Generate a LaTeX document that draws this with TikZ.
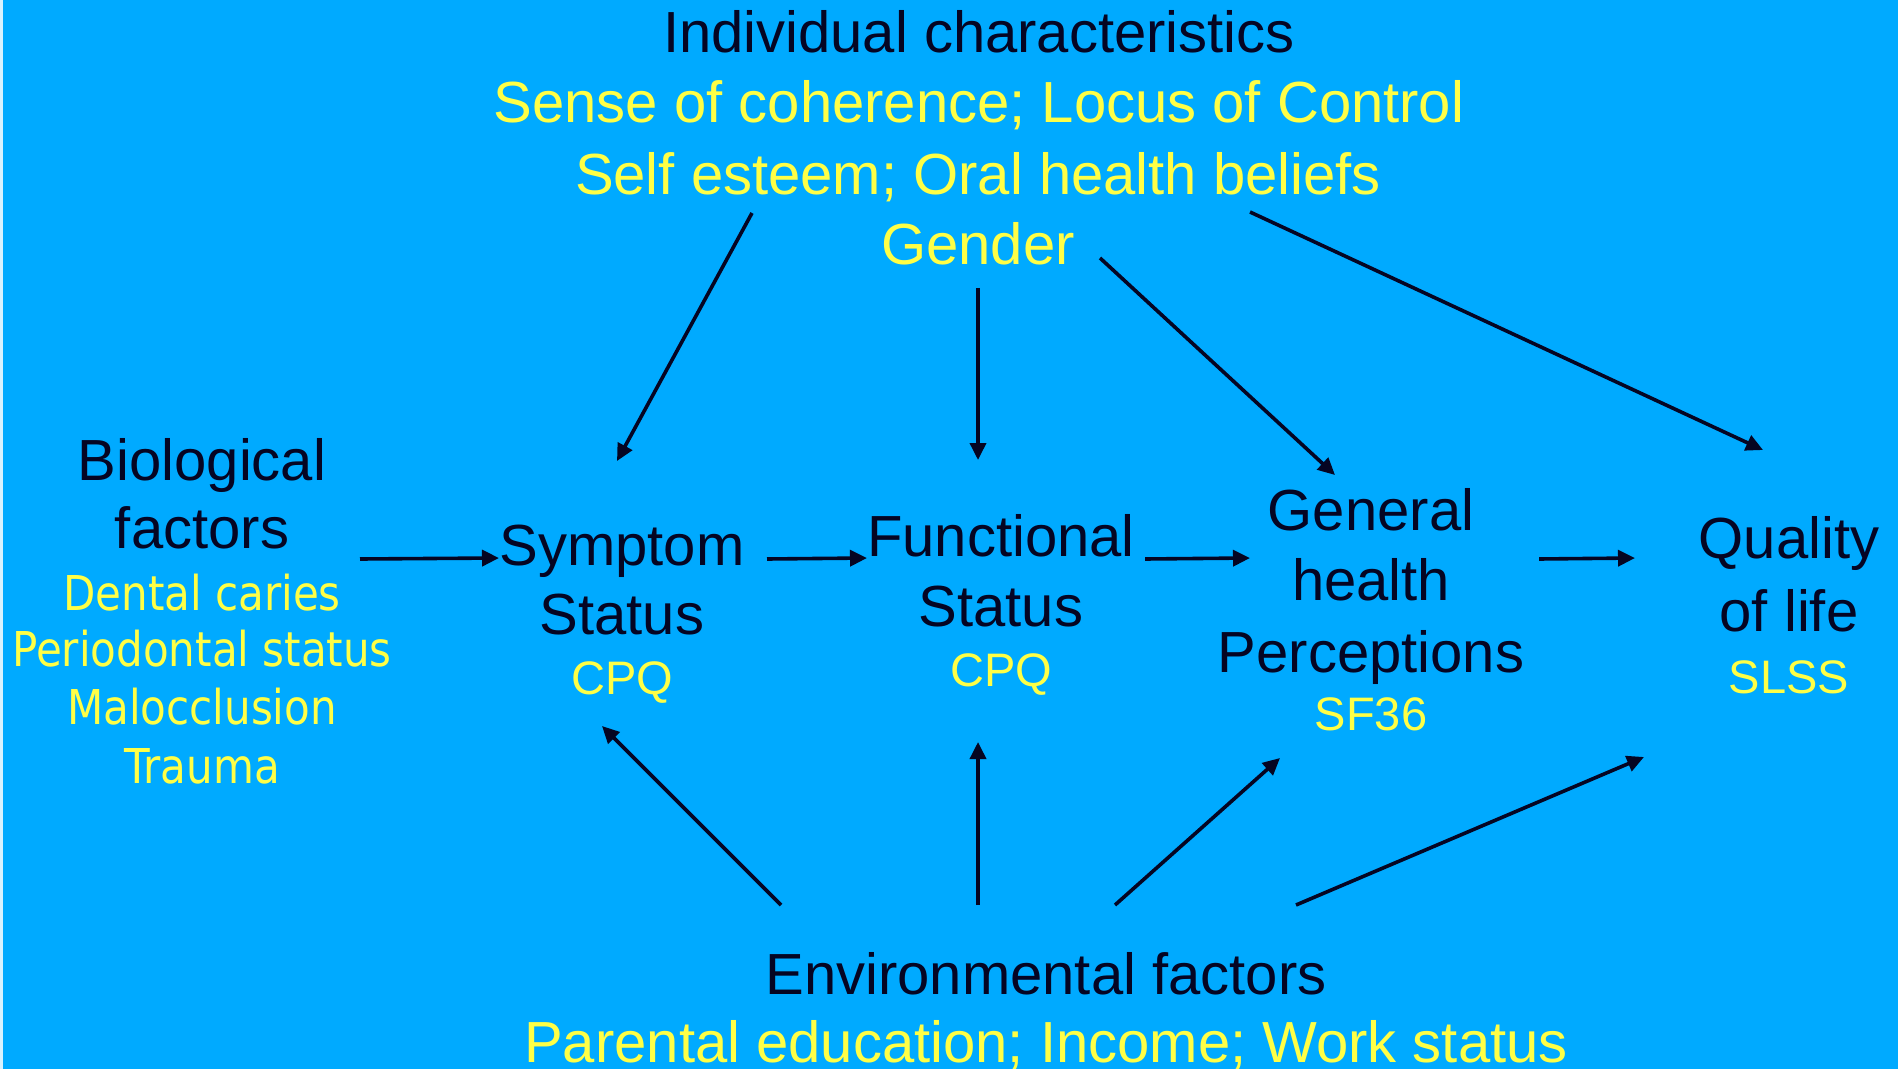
\documentclass[tikz,border=0pt]{standalone}
\usepackage{fontspec}
\setmainfont{Liberation Sans}
\newfontfamily\tahfont{DejaVu Sans}[FakeStretch=0.875]
\usetikzlibrary{arrows.meta}
\definecolor{bgblue}{RGB}{0,170,255}
\definecolor{darktxt}{RGB}{5,5,35}
\definecolor{yeltxt}{RGB}{255,255,70}
\tikzset{
  big/.style={anchor=base, inner sep=0pt, text=darktxt, font=\fontsize{29pt}{34pt}\selectfont},
  bigy/.style={anchor=base, inner sep=0pt, text=yeltxt, font=\fontsize{29pt}{34pt}\selectfont},
  smally/.style={anchor=base, inner sep=0pt, text=yeltxt, font=\fontsize{23.5pt}{28pt}\selectfont},
  tahy/.style={anchor=base, inner sep=0pt, text=yeltxt, font=\tahfont\fontsize{24pt}{29pt}\selectfont},
  arr/.style={draw=darktxt, line width=1.8pt, -{Triangle[length=8.5pt,width=8pt]}}
}
\begin{document}
\begin{tikzpicture}[x=0.5pt,y=-0.5pt]
\useasboundingbox (0,0) rectangle (1898,1069);
\fill[bgblue] (0,0) rectangle (1898,1069);
\fill[white!85!bgblue] (0,0) rectangle (3,1069);

% Individual characteristics
\node[big]  (ind)  at (979,53)  {Individual characteristics};
\node[bigy] (indA) at (979,123) {Sense of coherence; Locus of Control};
\node[bigy] (indB) at (978,195) {Self esteem; Oral health beliefs};
\node[bigy] (gend) at (978,265) {Gender};

% Biological factors
\node[big]  (bio1) at (202,480) {Biological};
\node[big]  (bio2) at (202,548) {factors};
\node[tahy] (bioA) at (202,610) {Dental caries};
\node[tahy] (bioB) at (202,666) {Periodontal status};
\node[tahy] (bioC) at (202,724) {Malocclusion};
\node[tahy] (bioD) at (202,783) {Trauma};

% Symptom status
\node[big]    (sym1) at (622,565) {Symptom};
\node[big]    (sym2) at (622,634) {Status};
\node[smally] (symq) at (622,694) {CPQ};

% Functional status
\node[big]    (fun1) at (1001,556) {Functional};
\node[big]    (fun2) at (1001,626) {Status};
\node[smally] (funq) at (1001,686) {CPQ};

% General health perceptions
\node[big]    (gen1) at (1371,530) {General};
\node[big]    (gen2) at (1371,600) {health};
\node[big]    (gen3) at (1371,672) {Perceptions};
\node[smally] (genq) at (1371,730) {SF36};

% Quality of life
\node[big]    (qol1) at (1789,558) {Quality};
\node[big]    (qol2) at (1789,631) {of life};
\node[smally] (qolq) at (1789,693) {SLSS};

% Environmental factors
\node[big]  (env)  at (1046,994)  {Environmental factors};
\node[bigy] (envA) at (1046,1062) {Parental education; Income; Work status};

% connector end points
\coordinate (h1s) at (360,559);  \coordinate (h1e) at (499,558);
\coordinate (h2s) at (767,559);  \coordinate (h2e) at (867,558);
\coordinate (h3s) at (1145,559); \coordinate (h3e) at (1250,558);
\coordinate (h4s) at (1539,559); \coordinate (h4e) at (1635,558);

\coordinate (t1s) at (752,213);  \coordinate (t1e) at (617,461);
\coordinate (t2s) at (978,288);  \coordinate (t2e) at (978,460);
\coordinate (t3s) at (1100,258); \coordinate (t3e) at (1335,475);
\coordinate (t4s) at (1250,212); \coordinate (t4e) at (1763,450);

\coordinate (b1s) at (781,905);  \coordinate (b1e) at (602,726);
\coordinate (b2s) at (978,905);  \coordinate (b2e) at (978,742);
\coordinate (b3s) at (1115,905); \coordinate (b3e) at (1280,758);
\coordinate (b4s) at (1296,905); \coordinate (b4e) at (1644,757);

\draw[arr] (h1s) -- (h1e);
\draw[arr] (h2s) -- (h2e);
\draw[arr] (h3s) -- (h3e);
\draw[arr] (h4s) -- (h4e);
\draw[arr] (t1s) -- (t1e);
\draw[arr] (t2s) -- (t2e);
\draw[arr] (t3s) -- (t3e);
\draw[arr] (t4s) -- (t4e);
\draw[arr] (b1s) -- (b1e);
\draw[arr] (b2s) -- (b2e);
\draw[arr] (b3s) -- (b3e);
\draw[arr] (b4s) -- (b4e);
\end{tikzpicture}
\end{document}
